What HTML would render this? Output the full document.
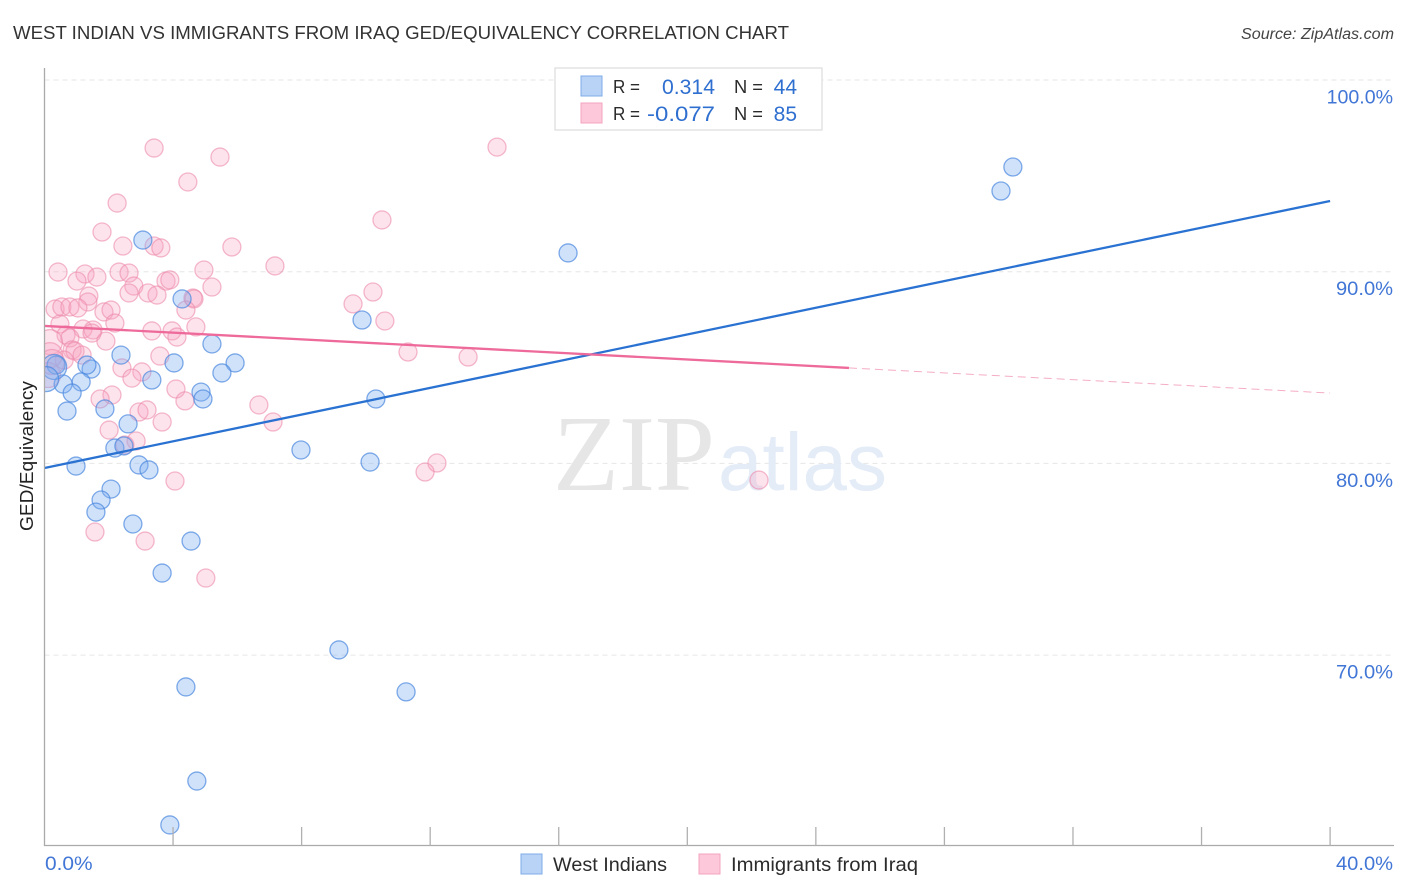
<!DOCTYPE html>
<html lang="en">
<head>
<meta charset="utf-8">
<title>West Indian vs Immigrants from Iraq GED/Equivalency Correlation Chart</title>
<style>
html,body{margin:0;padding:0;background:#fff}
svg{display:block}
text{font-family:"Liberation Sans",sans-serif}
</style>
</head>
<body>
<svg id="chart" xmlns="http://www.w3.org/2000/svg" width="1406" height="892" viewBox="0 0 1406 892">
  <defs>
    <clipPath id="plot-clip"><rect x="44.5" y="60" width="1350" height="785"/></clipPath>
  </defs>
  <rect x="0" y="0" width="1406" height="892" fill="#fff"/>
  <text x="13" y="39" font-size="18.5" fill="#333" textLength="776" lengthAdjust="spacingAndGlyphs">WEST INDIAN VS IMMIGRANTS FROM IRAQ GED/EQUIVALENCY CORRELATION CHART</text>
  <text x="1394" y="39" font-size="15.5" font-style="italic" fill="#444" text-anchor="end" textLength="153" lengthAdjust="spacingAndGlyphs">Source: ZipAtlas.com</text>
  <g id="grid"></g>
  <g>
    <text x="553" y="490" font-size="108" fill="#e6e6e6" style="font-family:'Liberation Serif',serif" textLength="162" lengthAdjust="spacingAndGlyphs">ZIP</text>
    <text x="718" y="490" font-size="82" fill="#e4ecf8" textLength="169" lengthAdjust="spacingAndGlyphs">atlas</text>
  </g>
  <g id="points" clip-path="url(#plot-clip)"></g>
  <g id="trends"></g>
  <g id="axes"></g>
  <text transform="translate(33,456) rotate(-90)" font-size="18.5" fill="#222" text-anchor="middle" textLength="150" lengthAdjust="spacingAndGlyphs">GED/Equivalency</text>
  <g>
    <rect x="555" y="68" width="267" height="62" fill="#fff" stroke="#ddd" stroke-width="1.2"/>
    <rect x="581" y="76" width="21" height="20" fill="#b9d3f7" stroke="#7fabe8" stroke-width="1"/>
    <rect x="581" y="103" width="21" height="20" fill="#fcc8da" stroke="#f3a3bf" stroke-width="1"/>
    <text x="613" y="93" font-size="18" fill="#2b2b2b" textLength="27" lengthAdjust="spacingAndGlyphs">R =</text>
    <text x="715" y="94" font-size="21" fill="#2f6fd0" text-anchor="end" textLength="53" lengthAdjust="spacingAndGlyphs">0.314</text>
    <text x="734" y="93" font-size="18" fill="#2b2b2b" textLength="29" lengthAdjust="spacingAndGlyphs">N =</text>
    <text x="797" y="94" font-size="21" fill="#2f6fd0" text-anchor="end">44</text>
    <text x="613" y="120" font-size="18" fill="#2b2b2b" textLength="27" lengthAdjust="spacingAndGlyphs">R =</text>
    <text x="715" y="121" font-size="21" fill="#2f6fd0" text-anchor="end" textLength="68" lengthAdjust="spacingAndGlyphs">-0.077</text>
    <text x="734" y="120" font-size="18" fill="#2b2b2b" textLength="29" lengthAdjust="spacingAndGlyphs">N =</text>
    <text x="797" y="121" font-size="21" fill="#2f6fd0" text-anchor="end">85</text>
  </g>
  <g>
    <rect x="521" y="854" width="21" height="20" fill="#b9d3f7" stroke="#7fabe8" stroke-width="1"/>
    <text x="553" y="871" font-size="19" fill="#2b2b2b" textLength="114" lengthAdjust="spacingAndGlyphs">West Indians</text>
    <rect x="699" y="854" width="21" height="20" fill="#fcc8da" stroke="#f3a3bf" stroke-width="1"/>
    <text x="731" y="871" font-size="19" fill="#2b2b2b" textLength="187" lengthAdjust="spacingAndGlyphs">Immigrants from Iraq</text>
  </g>
</svg>
<script>
const westIndianX = [30.13,29.76,16.29,3.06,4.28,9.88,5.21,2.38,4.03,5.93,5.52,1.45,1.32,3.34,1.14,0.58,0.86,4.87,4.93,10.31,1.88,0.70,2.60,2.19,2.47,7.98,10.13,0.98,2.94,3.25,2.07,1.76,1.60,2.75,4.56,3.66,9.16,4.40,11.25,4.74,3.90,0.36,0.30,0.05];
const westIndianY = [95.46,94.21,90.98,91.65,88.58,87.48,86.23,85.65,85.24,85.24,84.72,84.92,85.13,84.35,84.25,84.14,83.67,83.72,83.36,83.36,82.84,82.73,82.06,80.80,80.91,80.70,80.07,79.86,79.92,79.66,78.66,78.09,77.46,76.84,75.95,74.28,70.27,68.34,68.08,63.43,61.14,85.13,85.03,84.40];
const iraqX = [3.41,5.46,14.08,4.46,2.26,10.50,1.79,2.44,3.41,3.62,5.83,7.17,0.42,1.26,1.63,2.32,2.63,4.96,1.01,3.78,3.90,5.21,2.78,2.63,3.22,3.50,4.62,4.65,1.38,10.22,9.60,1.35,0.33,0.54,0.79,1.04,4.40,1.85,2.07,10.59,0.48,2.19,4.71,1.20,1.51,1.48,3.34,3.97,4.12,0.67,0.79,1.91,0.17,11.31,0.86,0.95,1.17,3.59,13.18,0.61,0.17,2.41,3.03,2.72,4.09,2.10,1.73,4.37,6.67,2.94,3.19,7.11,3.66,2.01,2.85,2.50,12.21,11.84,4.06,22.23,1.57,3.13,5.02,0.11,0.23];
const iraqY = [96.45,95.98,96.50,94.68,93.58,92.70,92.07,91.34,91.34,91.24,91.29,90.30,89.98,89.88,89.72,89.98,89.93,90.09,89.51,89.51,89.57,89.20,89.25,88.89,88.89,88.78,88.63,88.58,88.73,88.94,88.32,88.42,88.05,88.16,88.16,88.11,88.00,87.90,88.00,87.43,87.27,87.32,87.12,87.01,86.96,86.80,86.91,86.91,86.59,86.70,86.54,86.38,86.33,85.81,85.92,85.86,85.65,85.60,85.55,85.39,85.65,84.98,84.77,84.45,83.88,83.57,83.36,83.26,83.05,82.68,82.79,82.16,82.16,81.74,81.17,80.96,80.02,79.55,79.08,79.13,76.42,75.95,74.02,84.61,85.29];
const westIndianTrendX = [0,40];
const westIndianTrendY = [79.76,93.69];
const iraqTrendX = [0,25.03];
const iraqTrendY = [87.17,84.98];
const iraqForecastX = [25.03,40];
const iraqForecastY = [84.98,83.67];
const yTicks = [100,90,80,70];
const yTickLabels = ["100.0%","90.0%","80.0%","70.0%"];
const xTicks = [4,8,12,16,20,24,28,32,36,40];
const xEndValues = [0,40];
const xEndLabels = ["0.0%","40.0%"];

const NS = 'http://www.w3.org/2000/svg';
function xScale(v){ return 44.5 + v * 32.14; }
function yScale(v){ return 80 + (100 - v) * 19.17; }
function labelWidth(s){ return s.length * 9.4 + 10; }
function make(parent, tag, attrs){
  const el = document.createElementNS(NS, tag);
  for (const k in attrs) el.setAttribute(k, attrs[k]);
  parent.appendChild(el);
  return el;
}
const gridG = document.getElementById('grid');
const axesG = document.getElementById('axes');
const pointsG = document.getElementById('points');
const trendsG = document.getElementById('trends');

yTicks.forEach(function(v, i){
  const y = yScale(v);
  const line = make(gridG, 'line', {x1:44.5, x2:1394, y1:y, y2:y, stroke:'#e6e6e6', 'stroke-width':1, 'stroke-dasharray':'5 4'});
  
  
  const label = make(axesG, 'text', {x:1393, y:y + 23.5, 'font-size':19, fill:'#4176d6', 'text-anchor':'end', textLength:labelWidth(yTickLabels[i]), lengthAdjust:'spacingAndGlyphs'});
  
  
  label.textContent = yTickLabels[i];
});

function drawPoints(xs, ys, fill, fillOpacity, stroke, strokeOpacity, name){
  xs.forEach(function(v, i){
    const c = make(pointsG, 'circle', {cx:xScale(v), cy:yScale(ys[i]), r:v < 0.32 ? 12.5 : 9, fill:fill, 'fill-opacity':fillOpacity, stroke:stroke, 'stroke-opacity':strokeOpacity, 'stroke-width':1.3});
    
    
  });
}
drawPoints(iraqX, iraqY, '#f9a3c0', 0.3, '#ec8aac', 0.6, 'iraq-point');
drawPoints(westIndianX, westIndianY, '#7db0f0', 0.36, '#4a88de', 0.7, 'west-indian-point');

const blueTrend = make(trendsG, 'line', {x1:xScale(westIndianTrendX[0]), y1:yScale(westIndianTrendY[0]), x2:xScale(westIndianTrendX[1]), y2:yScale(westIndianTrendY[1]), stroke:'#2a72d2', 'stroke-width':2.3});


const pinkTrend = make(trendsG, 'line', {x1:xScale(iraqTrendX[0]), y1:yScale(iraqTrendY[0]), x2:xScale(iraqTrendX[1]), y2:yScale(iraqTrendY[1]), stroke:'#ee6a9a', 'stroke-width':2.3});


const pinkForecast = make(trendsG, 'line', {x1:xScale(iraqForecastX[0]), y1:yScale(iraqForecastY[0]), x2:xScale(iraqForecastX[1]), y2:yScale(iraqForecastY[1]), stroke:'#f5adc5', 'stroke-width':1, 'stroke-dasharray':'8 5'});



const yAxis = make(axesG, 'line', {x1:44.5, x2:44.5, y1:68, y2:846, stroke:'#aaa', 'stroke-width':1.3});


const xAxis = make(axesG, 'line', {x1:44, x2:1394, y1:845.5, y2:845.5, stroke:'#aaa', 'stroke-width':1.3});


xTicks.forEach(function(v){
  const x = xScale(v);
  const t = make(axesG, 'line', {x1:x, x2:x, y1:827, y2:845.5, stroke:'#b0b0b0', 'stroke-width':1.3});
  
  
});
xEndValues.forEach(function(v, i){
  const label = make(axesG, 'text', {x: i === 0 ? xScale(v) + 0.5 : 1393, y:870, 'font-size':19, fill:'#4176d6', 'text-anchor': i === 0 ? 'start' : 'end', textLength:labelWidth(xEndLabels[i]), lengthAdjust:'spacingAndGlyphs'});
  
  
  label.textContent = xEndLabels[i];
});
</script>
</body>
</html>
